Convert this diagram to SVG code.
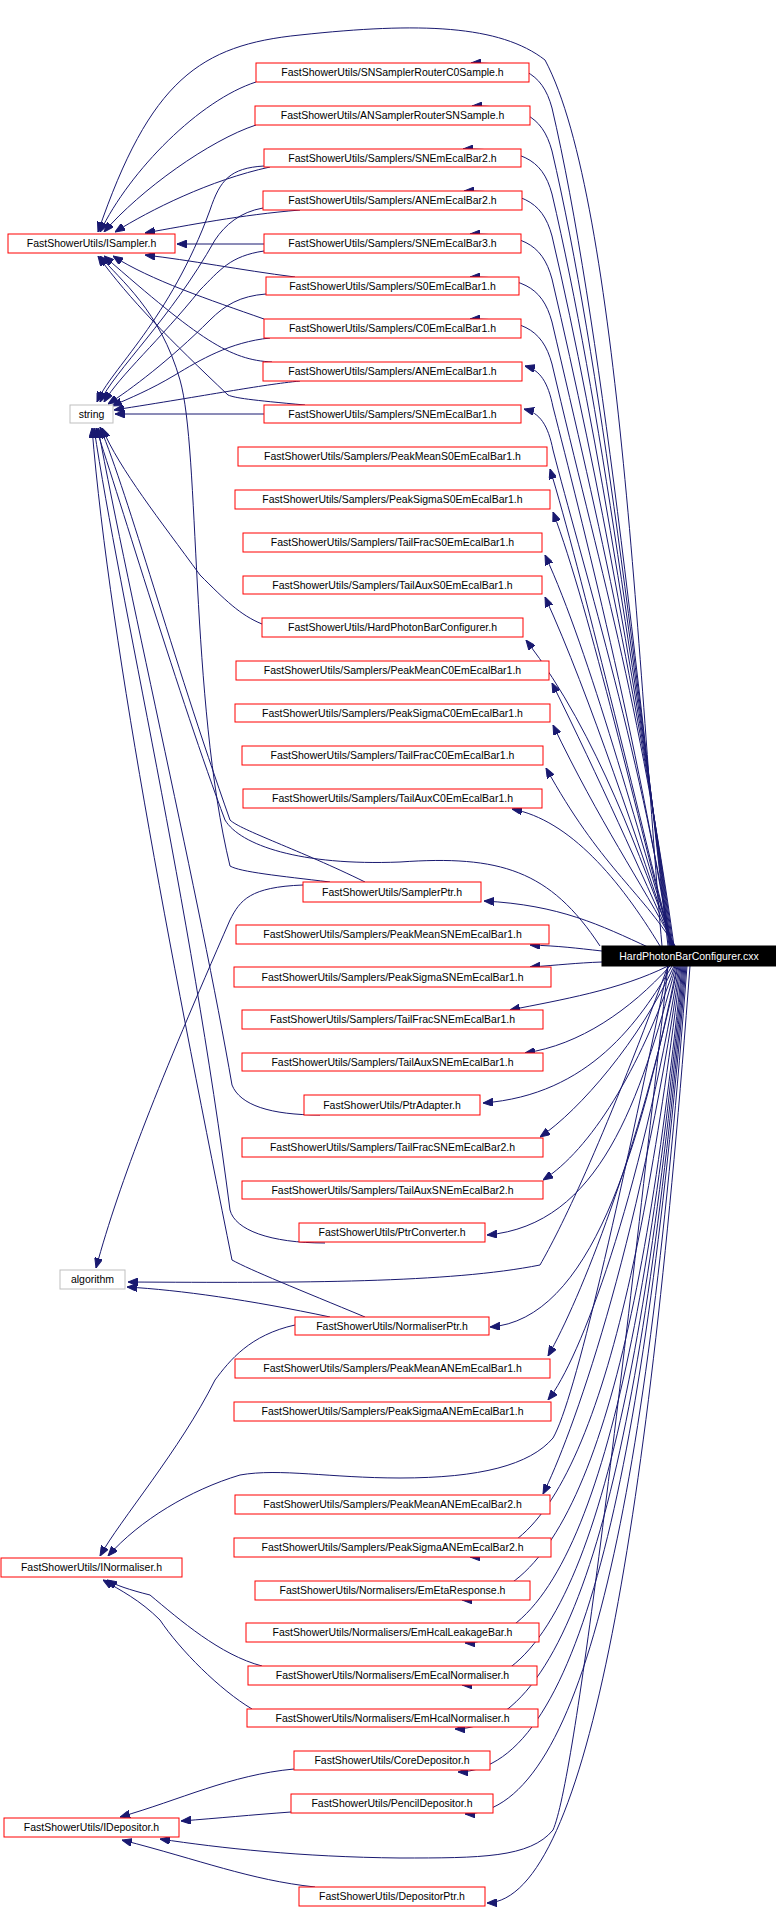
<svg xmlns="http://www.w3.org/2000/svg" width="776" height="1908" viewBox="0 0 776 1908">
<style>
.n rect{fill:#fff;stroke:#ff0000;stroke-width:1}
.g rect{fill:#fff;stroke:#bfbfbf;stroke-width:1}
text{font-family:"Liberation Sans",Arial,sans-serif;font-size:10.5px;fill:#000;text-anchor:middle}
#edges path{fill:none;stroke:#191970;stroke-width:1;marker-end:url(#ah)}
</style>
<defs><marker id="ah" markerUnits="userSpaceOnUse" markerWidth="10" markerHeight="8" refX="10" refY="4" orient="auto"><path d="M0,0 L10,4 L0,8 z" fill="#191970" stroke="#191970"/></marker></defs>
<rect width="776" height="1908" fill="#fff"/>
<g id="edges">
<path d="M668,946 C640,700 600,313 552,108 C542,71 520,63 471,63"/>
<path d="M669,946 C640,700 600,356 552,151 C542,114 520,106 472,106"/>
<path d="M670,946 C640,700 600,399 552,194 C542,157 520,149 463,149"/>
<path d="M671,946 C640,700 600,441 552,236 C542,199 520,191 464,191"/>
<path d="M672,946 C640,700 600,484 552,279 C542,242 520,234 470,234"/>
<path d="M673,946 C640,700 600,527 552,322 C542,285 520,277 470,277"/>
<path d="M674,946 C640,700 600,569 552,364 C542,327 520,319 470,319"/>
<path d="M670,946 C640,750 580,512 553,407 C548,382 540,370 525,366"/>
<path d="M671,946 C640,750 580,555 553,450 C548,425 540,413 524,409"/>
<path d="M672,946 C640,820 580,566 550,469"/>
<path d="M672,946 C640,830 590,609 553,512"/>
<path d="M673,946 C640,840 590,652 545,555"/>
<path d="M673,946 C640,850 590,695 545,597"/>
<path d="M674,946 C640,860 600,737 526,640"/>
<path d="M674,946 C640,870 600,780 552,683"/>
<path d="M675,946 C640,880 600,823 553,725"/>
<path d="M675,946 C640,890 600,866 546,768"/>
<path d="M660,946 C620,880 570,820 512,809"/>
<path d="M650,948 C600,925 560,905 484,901"/>
<path d="M602,951 C575,948 560,946 530,945"/>
<path d="M602,962 C575,963 560,965 530,967"/>
<path d="M668,966 C620,990 560,1000 510,1010"/>
<path d="M670,966 C630,1010 580,1045 525,1053"/>
<path d="M672,966 C640,1020 590,1095 483,1103"/>
<path d="M674,966 C640,1040 580,1110 540,1137"/>
<path d="M675,966 C640,1070 590,1150 543,1180"/>
<path d="M676,966 C640,1100 600,1225 487,1235"/>
<path d="M668,966 C600,1150 560,1230 540,1265 C450,1283 300,1283 128,1282"/>
<path d="M677,966 C640,1150 590,1320 490,1327"/>
<path d="M678,966 C640,1150 580,1300 548,1356"/>
<path d="M679,966 C640,1200 580,1360 548,1400"/>
<path d="M680,966 C640,1250 570,1440 543,1494"/>
<path d="M681,966 C640,1300 580,1555 470,1557"/>
<path d="M682,966 C645,1330 585,1598 462,1600"/>
<path d="M683,966 C645,1360 585,1641 465,1643"/>
<path d="M684,966 C645,1390 585,1683 462,1685"/>
<path d="M685,966 C645,1420 585,1727 455,1729"/>
<path d="M686,966 C645,1450 585,1770 458,1772"/>
<path d="M687,966 C648,1480 588,1812 465,1814"/>
<path d="M690,966 C650,1500 590,1900 487,1903"/>
<path d="M668,966 C620,1200 575,1400 553,1438 C530,1465 480,1478 400,1478 C330,1478 280,1468 240,1475 C190,1490 140,1520 108,1556"/>
<path d="M668,966 C620,1400 575,1780 553,1830 C530,1858 480,1858 400,1858 C300,1857 220,1848 160,1839"/>
<path d="M662,946 C640,700 620,200 545,60 C500,25 420,22 300,35 C200,45 150,80 98,232"/>
<path d="M600,946 C550,870 500,855 400,862 C300,866 240,845 225,820 C180,700 120,500 96,428"/>
<path d="M256,82 C200,100 130,170 100,232"/>
<path d="M256,125 C210,140 140,190 104,232"/>
<path d="M270,167 C210,180 150,210 115,232"/>
<path d="M300,210 C240,215 190,225 145,233"/>
<path d="M264,244 L177,244"/>
<path d="M295,277 C240,270 190,260 145,255"/>
<path d="M264,319 C210,300 150,280 113,256"/>
<path d="M272,362 C230,360 200,340 104,256"/>
<path d="M305,405 C250,400 235,398 228,395 C170,340 130,300 98,256"/>
<path d="M330,882 C280,876 240,872 230,866 C190,700 200,450 180,380 C160,310 120,280 100,256"/>
<path d="M365,882 C300,850 240,830 230,820 C170,650 130,500 100,427"/>
<path d="M303,885 C250,887 240,900 230,920 C160,1080 120,1180 96,1268"/>
<path d="M320,1115 C270,1115 240,1105 232,1085 C200,900 130,600 98,428"/>
<path d="M325,1243 C270,1243 235,1230 230,1210 C190,900 120,600 94,428"/>
<path d="M365,1317 C300,1290 250,1270 232,1260 C180,1000 110,650 92,428"/>
<path d="M330,1317 C250,1300 180,1290 127,1287"/>
<path d="M295,1325 C250,1335 230,1360 215,1380 C180,1450 120,1520 100,1556"/>
<path d="M262,624 C240,615 225,600 200,575 C160,520 120,470 102,428"/>
<path d="M264,166 C230,168 220,180 210,210 C170,320 110,370 97,402"/>
<path d="M263,208 C240,212 225,225 215,240 C170,320 115,370 100,402"/>
<path d="M264,251 C230,256 220,270 200,290 C160,340 120,375 104,402"/>
<path d="M266,294 C240,296 225,305 210,320 C170,360 130,390 108,404"/>
<path d="M270,338 C230,342 200,360 175,375 C150,390 130,398 112,406"/>
<path d="M300,381 C260,385 210,395 114,410"/>
<path d="M264,414 L115,414"/>
<path d="M262,1666 C220,1655 180,1620 150,1595 C130,1590 115,1585 107,1580"/>
<path d="M252,1709 C220,1690 180,1650 160,1620 C140,1600 120,1590 103,1580"/>
<path d="M294,1769 C230,1775 180,1800 120,1817"/>
<path d="M291,1812 C250,1815 220,1818 181,1821"/>
<path d="M315,1887 C250,1880 200,1860 122,1840"/>
</g>
<g id="cxx"><rect x="602" y="946" width="174" height="20" fill="#000" stroke="#000"/><text x="689" y="960" style="fill:#fff">HardPhotonBarConfigurer.cxx</text></g>
<g id="isampler" class="n"><rect x="8" y="234" width="167" height="19"/><text x="91.5" y="247">FastShowerUtils/ISampler.h</text></g>
<g id="string" class="g"><rect x="70" y="405" width="43" height="18"/><text x="91.5" y="418">string</text></g>
<g id="algorithm" class="g"><rect x="60" y="1270" width="65" height="19"/><text x="92.5" y="1283">algorithm</text></g>
<g id="inormaliser" class="n"><rect x="1" y="1558" width="181" height="19"/><text x="91.5" y="1571">FastShowerUtils/INormaliser.h</text></g>
<g id="idepositor" class="n"><rect x="4" y="1818" width="175" height="19"/><text x="91.5" y="1831">FastShowerUtils/IDepositor.h</text></g>
<g id="n0" class="n"><rect x="256" y="63" width="273" height="19"/><text x="392.5" y="76">FastShowerUtils/SNSamplerRouterC0Sample.h</text></g>
<g id="n1" class="n"><rect x="255" y="106" width="275" height="19"/><text x="392.5" y="119">FastShowerUtils/ANSamplerRouterSNSample.h</text></g>
<g id="n2" class="n"><rect x="264" y="149" width="257" height="18"/><text x="392.5" y="161.5">FastShowerUtils/Samplers/SNEmEcalBar2.h</text></g>
<g id="n3" class="n"><rect x="263" y="191" width="259" height="19"/><text x="392.5" y="204">FastShowerUtils/Samplers/ANEmEcalBar2.h</text></g>
<g id="n4" class="n"><rect x="264" y="234" width="257" height="19"/><text x="392.5" y="247">FastShowerUtils/Samplers/SNEmEcalBar3.h</text></g>
<g id="n5" class="n"><rect x="266" y="277" width="253" height="18"/><text x="392.5" y="289.5">FastShowerUtils/Samplers/S0EmEcalBar1.h</text></g>
<g id="n6" class="n"><rect x="264" y="319" width="257" height="19"/><text x="392.5" y="332">FastShowerUtils/Samplers/C0EmEcalBar1.h</text></g>
<g id="n7" class="n"><rect x="263" y="362" width="259" height="19"/><text x="392.5" y="375">FastShowerUtils/Samplers/ANEmEcalBar1.h</text></g>
<g id="n8" class="n"><rect x="264" y="405" width="257" height="18"/><text x="392.5" y="417.5">FastShowerUtils/Samplers/SNEmEcalBar1.h</text></g>
<g id="n9" class="n"><rect x="238" y="447" width="309" height="19"/><text x="392.5" y="460">FastShowerUtils/Samplers/PeakMeanS0EmEcalBar1.h</text></g>
<g id="n10" class="n"><rect x="235" y="490" width="315" height="19"/><text x="392.5" y="503">FastShowerUtils/Samplers/PeakSigmaS0EmEcalBar1.h</text></g>
<g id="n11" class="n"><rect x="243" y="533" width="299" height="19"/><text x="392.5" y="546">FastShowerUtils/Samplers/TailFracS0EmEcalBar1.h</text></g>
<g id="n12" class="n"><rect x="243" y="576" width="299" height="18"/><text x="392.5" y="588.5">FastShowerUtils/Samplers/TailAuxS0EmEcalBar1.h</text></g>
<g id="n13" class="n"><rect x="262" y="618" width="261" height="19"/><text x="392.5" y="631">FastShowerUtils/HardPhotonBarConfigurer.h</text></g>
<g id="n14" class="n"><rect x="236" y="661" width="313" height="19"/><text x="392.5" y="674">FastShowerUtils/Samplers/PeakMeanC0EmEcalBar1.h</text></g>
<g id="n15" class="n"><rect x="235" y="704" width="315" height="18"/><text x="392.5" y="716.5">FastShowerUtils/Samplers/PeakSigmaC0EmEcalBar1.h</text></g>
<g id="n16" class="n"><rect x="242" y="746" width="301" height="19"/><text x="392.5" y="759">FastShowerUtils/Samplers/TailFracC0EmEcalBar1.h</text></g>
<g id="n17" class="n"><rect x="243" y="789" width="299" height="19"/><text x="392.5" y="802">FastShowerUtils/Samplers/TailAuxC0EmEcalBar1.h</text></g>
<g id="n18" class="n"><rect x="303" y="882" width="178" height="20"/><text x="392" y="895.5">FastShowerUtils/SamplerPtr.h</text></g>
<g id="n19" class="n"><rect x="236" y="925" width="313" height="19"/><text x="392.5" y="938">FastShowerUtils/Samplers/PeakMeanSNEmEcalBar1.h</text></g>
<g id="n20" class="n"><rect x="234" y="967" width="317" height="20"/><text x="392.5" y="980.5">FastShowerUtils/Samplers/PeakSigmaSNEmEcalBar1.h</text></g>
<g id="n21" class="n"><rect x="242" y="1010" width="301" height="19"/><text x="392.5" y="1023">FastShowerUtils/Samplers/TailFracSNEmEcalBar1.h</text></g>
<g id="n22" class="n"><rect x="242" y="1053" width="301" height="18"/><text x="392.5" y="1065.5">FastShowerUtils/Samplers/TailAuxSNEmEcalBar1.h</text></g>
<g id="n23" class="n"><rect x="304" y="1095" width="176" height="20"/><text x="392" y="1108.5">FastShowerUtils/PtrAdapter.h</text></g>
<g id="n24" class="n"><rect x="242" y="1138" width="301" height="19"/><text x="392.5" y="1151">FastShowerUtils/Samplers/TailFracSNEmEcalBar2.h</text></g>
<g id="n25" class="n"><rect x="242" y="1181" width="301" height="18"/><text x="392.5" y="1193.5">FastShowerUtils/Samplers/TailAuxSNEmEcalBar2.h</text></g>
<g id="n26" class="n"><rect x="299" y="1223" width="186" height="19"/><text x="392" y="1236">FastShowerUtils/PtrConverter.h</text></g>
<g id="n27" class="n"><rect x="295" y="1317" width="194" height="18"/><text x="392" y="1329.5">FastShowerUtils/NormaliserPtr.h</text></g>
<g id="n28" class="n"><rect x="235" y="1359" width="315" height="19"/><text x="392.5" y="1372">FastShowerUtils/Samplers/PeakMeanANEmEcalBar1.h</text></g>
<g id="n29" class="n"><rect x="234" y="1402" width="317" height="19"/><text x="392.5" y="1415">FastShowerUtils/Samplers/PeakSigmaANEmEcalBar1.h</text></g>
<g id="n30" class="n"><rect x="235" y="1495" width="315" height="19"/><text x="392.5" y="1508">FastShowerUtils/Samplers/PeakMeanANEmEcalBar2.h</text></g>
<g id="n31" class="n"><rect x="234" y="1538" width="317" height="19"/><text x="392.5" y="1551">FastShowerUtils/Samplers/PeakSigmaANEmEcalBar2.h</text></g>
<g id="n32" class="n"><rect x="255" y="1581" width="275" height="19"/><text x="392.5" y="1594">FastShowerUtils/Normalisers/EmEtaResponse.h</text></g>
<g id="n33" class="n"><rect x="246" y="1623" width="293" height="19"/><text x="392.5" y="1636">FastShowerUtils/Normalisers/EmHcalLeakageBar.h</text></g>
<g id="n34" class="n"><rect x="248" y="1666" width="289" height="19"/><text x="392.5" y="1679">FastShowerUtils/Normalisers/EmEcalNormaliser.h</text></g>
<g id="n35" class="n"><rect x="247" y="1709" width="291" height="18"/><text x="392.5" y="1721.5">FastShowerUtils/Normalisers/EmHcalNormaliser.h</text></g>
<g id="n36" class="n"><rect x="294" y="1751" width="196" height="19"/><text x="392" y="1764">FastShowerUtils/CoreDepositor.h</text></g>
<g id="n37" class="n"><rect x="291" y="1794" width="202" height="19"/><text x="392" y="1807">FastShowerUtils/PencilDepositor.h</text></g>
<g id="n38" class="n"><rect x="299" y="1887" width="186" height="19"/><text x="392" y="1900">FastShowerUtils/DepositorPtr.h</text></g>
</svg>
